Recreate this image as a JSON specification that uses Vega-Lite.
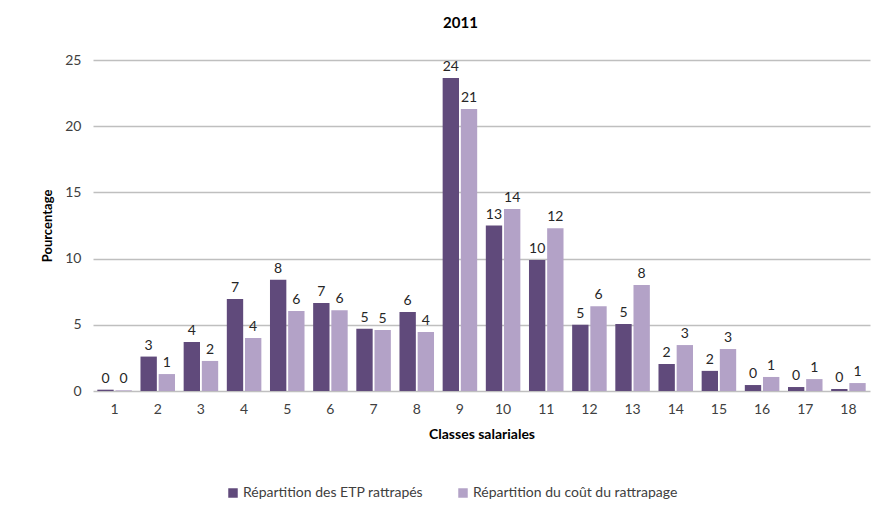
{
  "$schema": "https://vega.github.io/schema/vega-lite/v6.json",
  "autosize": "none",
  "width": 777,
  "height": 331,
  "padding": {"left": 93, "top": 60, "right": 17, "bottom": 125},
  "background": "white",
  "title": {"text": "2011", "fontSize": 15, "fontWeight": "bold", "font": "Lato", "color": "#000000", "offset": 22, "dx": -21},
  "config": {
    "view": {"stroke": null},
    "font": "Lato",
    "axis": {"labelFont": "Lato", "titleFont": "Lato", "labelColor": "#404040", "titleColor": "#000000"}
  },
  "data": {"values": [
    {"classe": 1, "serie": "Répartition des ETP rattrapés", "valeur": 0.1},
    {"classe": 2, "serie": "Répartition des ETP rattrapés", "valeur": 2.6},
    {"classe": 3, "serie": "Répartition des ETP rattrapés", "valeur": 3.7},
    {"classe": 4, "serie": "Répartition des ETP rattrapés", "valeur": 6.95},
    {"classe": 5, "serie": "Répartition des ETP rattrapés", "valeur": 8.4},
    {"classe": 6, "serie": "Répartition des ETP rattrapés", "valeur": 6.65},
    {"classe": 7, "serie": "Répartition des ETP rattrapés", "valeur": 4.7},
    {"classe": 8, "serie": "Répartition des ETP rattrapés", "valeur": 5.97},
    {"classe": 9, "serie": "Répartition des ETP rattrapés", "valeur": 23.64},
    {"classe": 10, "serie": "Répartition des ETP rattrapés", "valeur": 12.5},
    {"classe": 11, "serie": "Répartition des ETP rattrapés", "valeur": 9.9},
    {"classe": 12, "serie": "Répartition des ETP rattrapés", "valeur": 5.0},
    {"classe": 13, "serie": "Répartition des ETP rattrapés", "valeur": 5.06},
    {"classe": 14, "serie": "Répartition des ETP rattrapés", "valeur": 2.04},
    {"classe": 15, "serie": "Répartition des ETP rattrapés", "valeur": 1.52},
    {"classe": 16, "serie": "Répartition des ETP rattrapés", "valeur": 0.45},
    {"classe": 17, "serie": "Répartition des ETP rattrapés", "valeur": 0.3},
    {"classe": 18, "serie": "Répartition des ETP rattrapés", "valeur": 0.15},
    {"classe": 1, "serie": "Répartition du coût du rattrapage", "valeur": 0.05},
    {"classe": 2, "serie": "Répartition du coût du rattrapage", "valeur": 1.28},
    {"classe": 3, "serie": "Répartition du coût du rattrapage", "valeur": 2.27},
    {"classe": 4, "serie": "Répartition du coût du rattrapage", "valeur": 4.0},
    {"classe": 5, "serie": "Répartition du coût du rattrapage", "valeur": 6.04},
    {"classe": 6, "serie": "Répartition du coût du rattrapage", "valeur": 6.1},
    {"classe": 7, "serie": "Répartition du coût du rattrapage", "valeur": 4.6},
    {"classe": 8, "serie": "Répartition du coût du rattrapage", "valeur": 4.45},
    {"classe": 9, "serie": "Répartition du coût du rattrapage", "valeur": 21.3},
    {"classe": 10, "serie": "Répartition du coût du rattrapage", "valeur": 13.75},
    {"classe": 11, "serie": "Répartition du coût du rattrapage", "valeur": 12.3},
    {"classe": 12, "serie": "Répartition du coût du rattrapage", "valeur": 6.4},
    {"classe": 13, "serie": "Répartition du coût du rattrapage", "valeur": 8.0},
    {"classe": 14, "serie": "Répartition du coût du rattrapage", "valeur": 3.47},
    {"classe": 15, "serie": "Répartition du coût du rattrapage", "valeur": 3.17},
    {"classe": 16, "serie": "Répartition du coût du rattrapage", "valeur": 1.06},
    {"classe": 17, "serie": "Répartition du coût du rattrapage", "valeur": 0.9},
    {"classe": 18, "serie": "Répartition du coût du rattrapage", "valeur": 0.6}
  ]},
  "encoding": {
    "x": {
      "field": "classe", "type": "ordinal",
      "scale": {"paddingInner": 0.2, "paddingOuter": 0.1},
      "axis": {"title": "Classes salariales", "titleFontSize": 14, "titleFontWeight": "bold", "titlePadding": 11, "labelAngle": 0, "labelFontSize": 14, "labelPadding": 11, "ticks": false, "domain": false}
    },
    "xOffset": {"field": "serie", "type": "nominal", "scale": {"paddingInner": 0.1}},
    "y": {
      "field": "valeur", "type": "quantitative",
      "scale": {"domain": [0, 25], "nice": false},
      "axis": {"title": "Pourcentage", "titleFontSize": 13, "titleFontWeight": "bold", "titlePadding": 10, "values": [0, 5, 10, 15, 20, 25], "labelFontSize": 14, "labelPadding": 12, "ticks": false, "domain": false, "grid": true, "gridColor": "#bfbfbf", "gridWidth": 1.5}
    }
  },
  "layer": [
    {
      "mark": {"type": "bar"},
      "encoding": {
        "color": {
          "field": "serie", "type": "nominal",
          "scale": {"domain": ["Répartition des ETP rattrapés", "Répartition du coût du rattrapage"], "range": ["#604A7B", "#B3A2C7"]},
          "legend": {"title": null, "orient": "none", "direction": "horizontal", "legendX": 133, "legendY": 426, "symbolType": "square", "symbolSize": 90, "symbolStrokeWidth": 0, "labelFontSize": 14, "labelColor": "#404040", "labelFont": "Lato", "columnPadding": 32, "labelOffset": 3, "labelLimit": 300}
        }
      }
    },
    {
      "mark": {"type": "text", "baseline": "bottom", "dy": -4, "fontSize": 14, "color": "#262626"},
      "encoding": {
        "text": {"field": "valeur", "type": "quantitative", "format": ".0f"}
      }
    }
  ]
}
